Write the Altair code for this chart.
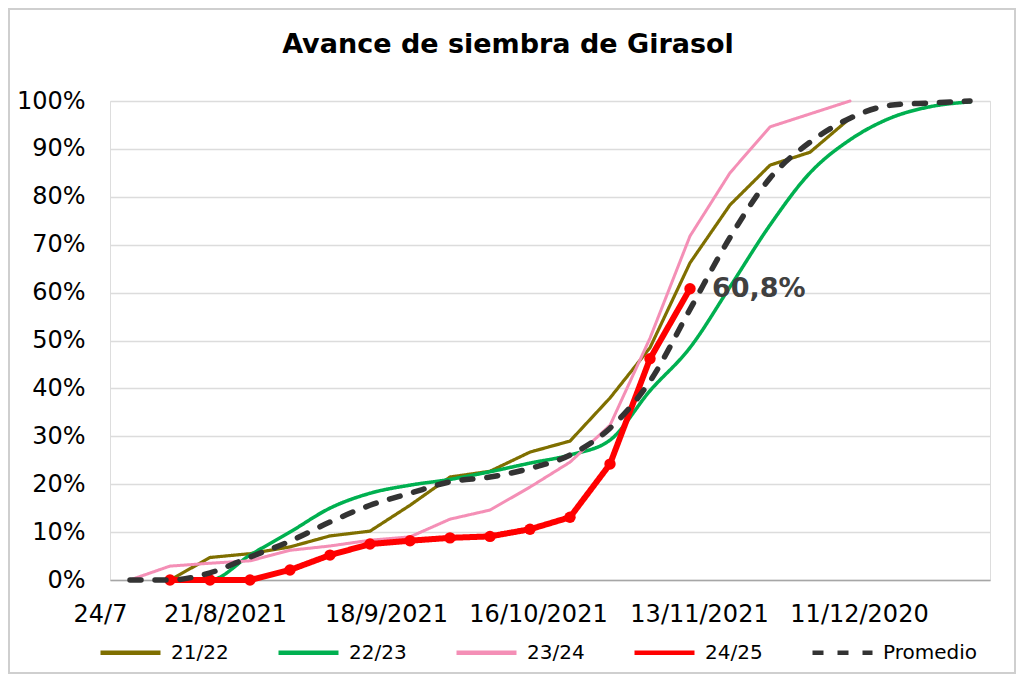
import altair as alt
import pandas as pd

# ---- data ----
series = ["21/22", "22/23", "23/24", "24/25", "Promedio"]
colors = ["#7f6f00", "#00b050", "#f48fb6", "#ff0000", "#333333"]

s2122_weeks = list(range(1, 19))
s2122 = [0, 4.7, 5.5, 6.9, 9.2, 10.2, 15.6, 21.5, 22.7, 26.7, 29.0, 38.0, 48.5, 66.2, 78.3, 86.6, 89.3, 96.4]

s2223_weeks = list(range(1, 22))
s2223 = [0, 0, 5.2, 10.0, 15.0, 18.1, 19.8, 21.0, 22.6, 24.4, 26.1, 29.2, 39.5, 48.5, 61.2, 74.1, 85.0, 91.9, 96.4, 98.8, 99.8]

s2324_weeks = list(range(0, 19))
s2324 = [0, 2.9, 3.5, 4.0, 6.2, 7.1, 8.3, 9.0, 12.7, 14.6, 19.4, 24.6, 32.3, 50.5, 71.8, 85.0, 94.6, 97.3, 100]

s2425_weeks = list(range(1, 15))
s2425 = [0, 0, 0, 2.1, 5.2, 7.5, 8.2, 8.8, 9.1, 10.6, 13.1, 24.2, 46.2, 60.8]

prom_weeks = list(range(0, 22))
prom = [0, 0, 1.5, 4.8, 8.1, 12.1, 15.6, 18.1, 20.5, 21.5, 23.3, 26.1, 31.7, 41.5, 56.5, 71.5, 83.9, 91.4, 96.4, 99.1, 99.6, 100]

x_tick_pos = [-0.5, 2.375, 6.4, 10.2, 14.225, 18.225]
x_tick_labels = ["24/7", "21/8/2021", "18/9/2021", "16/10/2021", "13/11/2021", "11/12/2020"]
y_ticks = list(range(0, 101, 10))

FONT = "DejaVu Sans"

rows = []
for name, wk, vals in [("21/22", s2122_weeks, s2122), ("22/23", s2223_weeks, s2223),
                       ("23/24", s2324_weeks, s2324), ("24/25", s2425_weeks, s2425),
                       ("Promedio", prom_weeks, prom)]:
    for w, v in zip(wk, vals):
        rows.append({"serie": name, "semana": w, "avance": v})
df = pd.DataFrame(rows)

last = pd.DataFrame({"semana": [s2425_weeks[-1]], "avance": [s2425[-1]],
                     "etiqueta": [f"{s2425[-1]:.1f}%".replace(".", ",")]})

label_expr = ("[" + ",".join(f"'{t}'" for t in x_tick_labels) + "][indexof(["
              + ",".join(str(p) for p in x_tick_pos) + "], datum.value)]")

x_enc = alt.X("semana:Q", scale=alt.Scale(domain=[-0.5, 21.5], nice=False, zero=False),
              axis=alt.Axis(values=x_tick_pos, labelExpr=label_expr, title=None, grid=False,
                            ticks=False, tickSize=0, domain=True, domainColor="#a6a6a6",
                            domainWidth=1.5, labelFont=FONT, labelFontSize=24, labelColor="black",
                            labelPadding=22, labelFlush=False, labelOverlap=False,
                            labelOffset={"condition": {"test": "datum.value < 0", "value": -10}, "value": 0}))
y_enc = alt.Y("avance:Q", scale=alt.Scale(domain=[0, 100], nice=False),
              axis=alt.Axis(values=y_ticks, labelExpr="datum.value + '%'", title=None, grid=True,
                            gridColor="#dcdcdc", gridWidth=1.5, ticks=False, tickSize=0, domain=False,
                            labelFont=FONT, labelFontSize=24, labelColor="black", labelPadding=25))

legend = alt.Legend(orient="none", legendX=-12, legendY=519, direction="horizontal", columns=5,
                    title=None, labelFont=FONT, labelFontSize=20, labelColor="black",
                    symbolType="stroke", symbolSize=3600, symbolStrokeWidth=4.5,
                    columnPadding=40, labelOffset=8, padding=0)

color_enc = alt.Color("serie:N", scale=alt.Scale(domain=series, range=colors), legend=legend)
dash_enc = alt.StrokeDash("serie:N", scale=alt.Scale(domain=series,
                          range=[[1, 0], [1, 0], [1, 0], [1, 0], [11, 14]]), legend=legend)

base = alt.Chart(df)


def line_layer(name, interp, width):
    return base.transform_filter(alt.datum.serie == name).mark_line(
        interpolate=interp, strokeCap="round", strokeJoin="round", strokeWidth=width
    ).encode(x=x_enc, y=y_enc, color=color_enc, strokeDash=dash_enc)


l_2122 = line_layer("21/22", "linear", 3.2)
l_2223 = line_layer("22/23", "monotone", 3.5)
l_2324 = line_layer("23/24", "linear", 3)
l_2425 = line_layer("24/25", "linear", 6)
l_prom = line_layer("Promedio", "monotone", 5.5)

p_2425 = base.transform_filter(alt.datum.serie == "24/25").mark_circle(
    size=130, opacity=1, color="#ff0000").encode(x=x_enc, y=y_enc)

label = alt.Chart(last).mark_text(align="left", baseline="middle", dx=22, font=FONT,
                                  fontSize=27, fontWeight="bold", color="#404040").encode(
    x=x_enc, y=y_enc, text="etiqueta:N")

border = alt.Chart(pd.DataFrame({"k": [0]})).mark_rect(
    fillOpacity=0, stroke="#cfcfcf", strokeWidth=2).encode(
    x=alt.value(-101), x2=alt.value(905), y=alt.value(-92), y2=alt.value(572))

chart = alt.layer(border, l_2122, l_2223, l_2324, l_2425, p_2425, l_prom, label).properties(
    width=880, height=479,
    title=alt.TitleParams(text="Avance de siembra de Girasol", font=FONT, fontSize=27,
                          fontWeight="bold", color="black", anchor="middle", dx=-42,
                          baseline="alphabetic", offset=-72),
    autosize=alt.AutoSizeParams(type="none"),
    padding={"left": 102, "top": 93, "right": 26, "bottom": 95},
    background="white",
).configure_view(stroke=None).configure(font=FONT)

chart.save("out.html", embed_options={"renderer": "svg", "actions": False})
